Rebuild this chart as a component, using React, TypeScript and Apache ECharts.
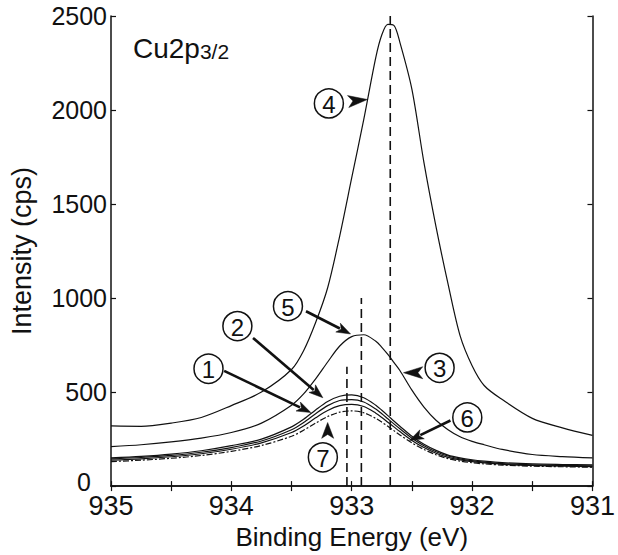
import React, { useEffect, useRef } from "react";
import * as echarts from "echarts";

// Binding energies (eV) shared by all spectra
const energies = [935, 934.75, 934.5, 934.25, 934, 933.75, 933.5, 933.4, 933.3, 933.2, 933.1, 933.0, 932.9, 932.8, 932.75, 932.7, 932.65, 932.6, 932.5, 932.4, 932.3, 932.2, 932.1, 932.0, 931.9, 931.75, 931.5, 931.25, 931];

// Intensities (cps)
const curve4 = [320, 318, 335, 365, 428, 500, 620, 720, 870, 1055, 1330, 1640, 1950, 2280, 2400, 2455, 2450, 2360, 2110, 1720, 1380, 1075, 800, 640, 535, 460, 360, 310, 270];
const curve5 = [210, 220, 235, 255, 285, 335, 430, 490, 570, 660, 745, 795, 805, 770, 738, 700, 658, 615, 510, 420, 350, 300, 262, 238, 220, 195, 168, 157, 150];
const curve2 = [150, 158, 170, 188, 215, 250, 315, 355, 405, 450, 478, 485, 470, 430, 403, 375, 346, 318, 265, 222, 190, 165, 150, 140, 133, 125, 118, 115, 113];
const curve6 = [145, 152, 163, 180, 205, 240, 300, 338, 385, 428, 455, 460, 447, 410, 385, 358, 331, 305, 255, 215, 183, 160, 145, 135, 128, 120, 113, 110, 108];
const curve1 = [138, 145, 156, 172, 196, 230, 285, 320, 363, 402, 428, 435, 423, 388, 365, 340, 315, 290, 243, 205, 175, 153, 139, 130, 123, 116, 110, 106, 104];
const curve7 = [130, 138, 148, 163, 185, 216, 265, 297, 335, 370, 393, 400, 390, 360, 340, 318, 295, 272, 230, 195, 167, 146, 133, 124, 118, 112, 106, 103, 100];

// Peak-position marker lines: energy and upper end (cps)
const peakLineEnergies = [932.68, 932.92, 933.04];
const peakLineTops = [2500, 1000, 635];

// Axis tick labels
const xTicks = [935, 934, 933, 932, 931];
const yTicks = [0, 500, 1000, 1500, 2000, 2500];

// Circled labels with arrows (data coordinates)
const annotations = [
  { label: "1", circle: [934.19, 624], tail: [934.06, 613], tip: [933.34, 391], headOnly: false },
  { label: "2", circle: [933.95, 851], tail: [933.82, 788], tip: [933.24, 470], headOnly: false },
  { label: "3", circle: [932.27, 629], tail: [932.41, 603], tip: [932.57, 603], headOnly: true },
  { label: "4", circle: [933.19, 2035], tail: [933.03, 2045], tip: [932.87, 2056], headOnly: true },
  { label: "5", circle: [933.53, 957], tail: [933.38, 930], tip: [933.01, 809], headOnly: false },
  { label: "6", circle: [932.04, 365], tail: [932.18, 349], tip: [932.52, 243], headOnly: false },
  { label: "7", circle: [933.24, 153], tail: [933.2, 254], tip: [933.2, 338], headOnly: true },
];

const FONT = "'Liberation Sans', Arial, sans-serif";

function pairs(ys: number[]) {
  return energies.map((e, i) => [e, ys[i]]);
}

export default function App() {
  const ref = useRef<HTMLDivElement>(null);
  useEffect(() => {
    document.body.style.margin = "0";
    if (!ref.current) return;
    const chart = echarts.init(ref.current, undefined, { renderer: "svg" });
    const lineStyle = { color: "#111", width: 1.2 };
    const curveSeries = [
      { name: "4", data: curve4, type: "solid" },
      { name: "5", data: curve5, type: "solid" },
      { name: "2", data: curve2, type: "solid" },
      { name: "6", data: curve6, type: "solid" },
      { name: "1", data: curve1, type: "solid" },
      { name: "7", data: curve7, type: [6, 2, 2, 2] },
    ].map((c) => ({
      name: c.name,
      type: "line",
      data: pairs(c.data),
      smooth: 0.3,
      showSymbol: false,
      lineStyle: { ...lineStyle, type: c.type },
      z: 3,
    }));
    const markerSeries = peakLineEnergies.map((e, i) => ({
      name: "peak" + i,
      type: "line",
      data: [
        [e, 0],
        [e, peakLineTops[i]],
      ],
      showSymbol: false,
      lineStyle: { color: "#111", width: 1.6, type: [9, 5] },
      z: 2,
    }));
    const axisLine = { show: true, lineStyle: { color: "#111", width: 1.5 } };
    const tick = { show: true, inside: true, length: 5, lineStyle: { color: "#111", width: 1.2 } };
    chart.setOption({
      animation: false,
      grid: { left: 110, right: 25, top: 16, bottom: 66, show: false },
      xAxis: [
        {
          type: "value",
          min: 931,
          max: 935,
          interval: 0.5,
          inverse: true,
          position: "bottom",
          axisLine,
          axisTick: tick,
          splitLine: { show: false },
          axisLabel: {
            color: "#111",
            fontFamily: FONT,
            fontSize: 27,
            margin: 6,
            formatter: (v: number) => (xTicks.includes(v) ? String(v) : ""),
          },
          name: "Binding Energy (eV)",
          nameLocation: "middle",
          nameGap: 34,
          nameTextStyle: { color: "#111", fontFamily: FONT, fontSize: 26 },
        },
        {
          type: "value",
          min: 931,
          max: 935,
          interval: 0.5,
          inverse: true,
          position: "top",
          axisLine,
          axisTick: tick,
          splitLine: { show: false },
          axisLabel: { show: false },
        },
      ],
      yAxis: [
        {
          type: "value",
          min: 0,
          max: 2500,
          interval: 500,
          position: "left",
          axisLine,
          axisTick: tick,
          splitLine: { show: false },
          axisLabel: {
            color: "#111",
            fontFamily: FONT,
            fontSize: 25,
            margin: 4,
            formatter: (v: number) =>
              v === 0 ? "{z|0}" : yTicks.includes(v) ? String(v) : "",
            rich: {
              z: { color: "#111", fontFamily: FONT, fontSize: 25, padding: [0, 16, 9, 0] },
            },
          },
          name: "Intensity (cps)",
          nameLocation: "middle",
          nameGap: 76,
          nameTextStyle: { color: "#111", fontFamily: FONT, fontSize: 27 },
        },
        {
          type: "value",
          min: 0,
          max: 2500,
          interval: 500,
          position: "right",
          axisLine,
          axisTick: tick,
          splitLine: { show: false },
          axisLabel: { show: false },
        },
      ],
      series: [...markerSeries, ...curveSeries],
    });

    const toPx = (p: number[]) => chart.convertToPixel({ gridIndex: 0 }, p) as number[];
    const graphics: any[] = [
      {
        type: "text",
        x: 133,
        y: 62,
        style: {
          text: "{a|Cu2p}{b|3/2}",
          verticalAlign: "bottom",
          rich: {
            a: { fontFamily: FONT, fontSize: 28, fill: "#111", verticalAlign: "bottom", lineHeight: 30 },
            b: { fontFamily: FONT, fontSize: 21, fill: "#111", verticalAlign: "bottom", lineHeight: 28 },
          },
        },
      },
    ];
    annotations.forEach((a) => {
      const c = toPx(a.circle);
      const t0 = toPx(a.tail);
      const t1 = toPx(a.tip);
      graphics.push({
        type: "circle",
        shape: { cx: c[0], cy: c[1], r: 14.5 },
        style: { fill: "none", stroke: "#111", lineWidth: 1.5 },
      });
      graphics.push({
        type: "text",
        x: c[0],
        y: c[1] + 1,
        style: { text: a.label, fontFamily: FONT, fontSize: 24, fill: "#111", align: "center", verticalAlign: "middle" },
      });
      const dx = t1[0] - t0[0];
      const dy = t1[1] - t0[1];
      const len = Math.hypot(dx, dy);
      const ux = dx / len;
      const uy = dy / len;
      const headLen = a.headOnly ? len : 14;
      const halfW = a.headOnly ? 6 : 5;
      const bx = t1[0] - ux * headLen;
      const by = t1[1] - uy * headLen;
      if (!a.headOnly) {
        graphics.push({
          type: "line",
          shape: { x1: t0[0], y1: t0[1], x2: bx + ux * 2, y2: by + uy * 2 },
          style: { stroke: "#111", lineWidth: 2.6 },
        });
      }
      graphics.push({
        type: "polygon",
        shape: {
          points: [
            [t1[0], t1[1]],
            [bx - uy * halfW, by + ux * halfW],
            [bx + ux * headLen * 0.25, by + uy * headLen * 0.25],
            [bx + uy * halfW, by - ux * halfW],
          ],
        },
        style: { fill: "#111", stroke: "#111", lineWidth: 0.5 },
      });
    });
    chart.setOption({ graphic: graphics });
    return () => chart.dispose();
  }, []);
  return <div ref={ref} style={{ width: 618, height: 555 }} />;
}
